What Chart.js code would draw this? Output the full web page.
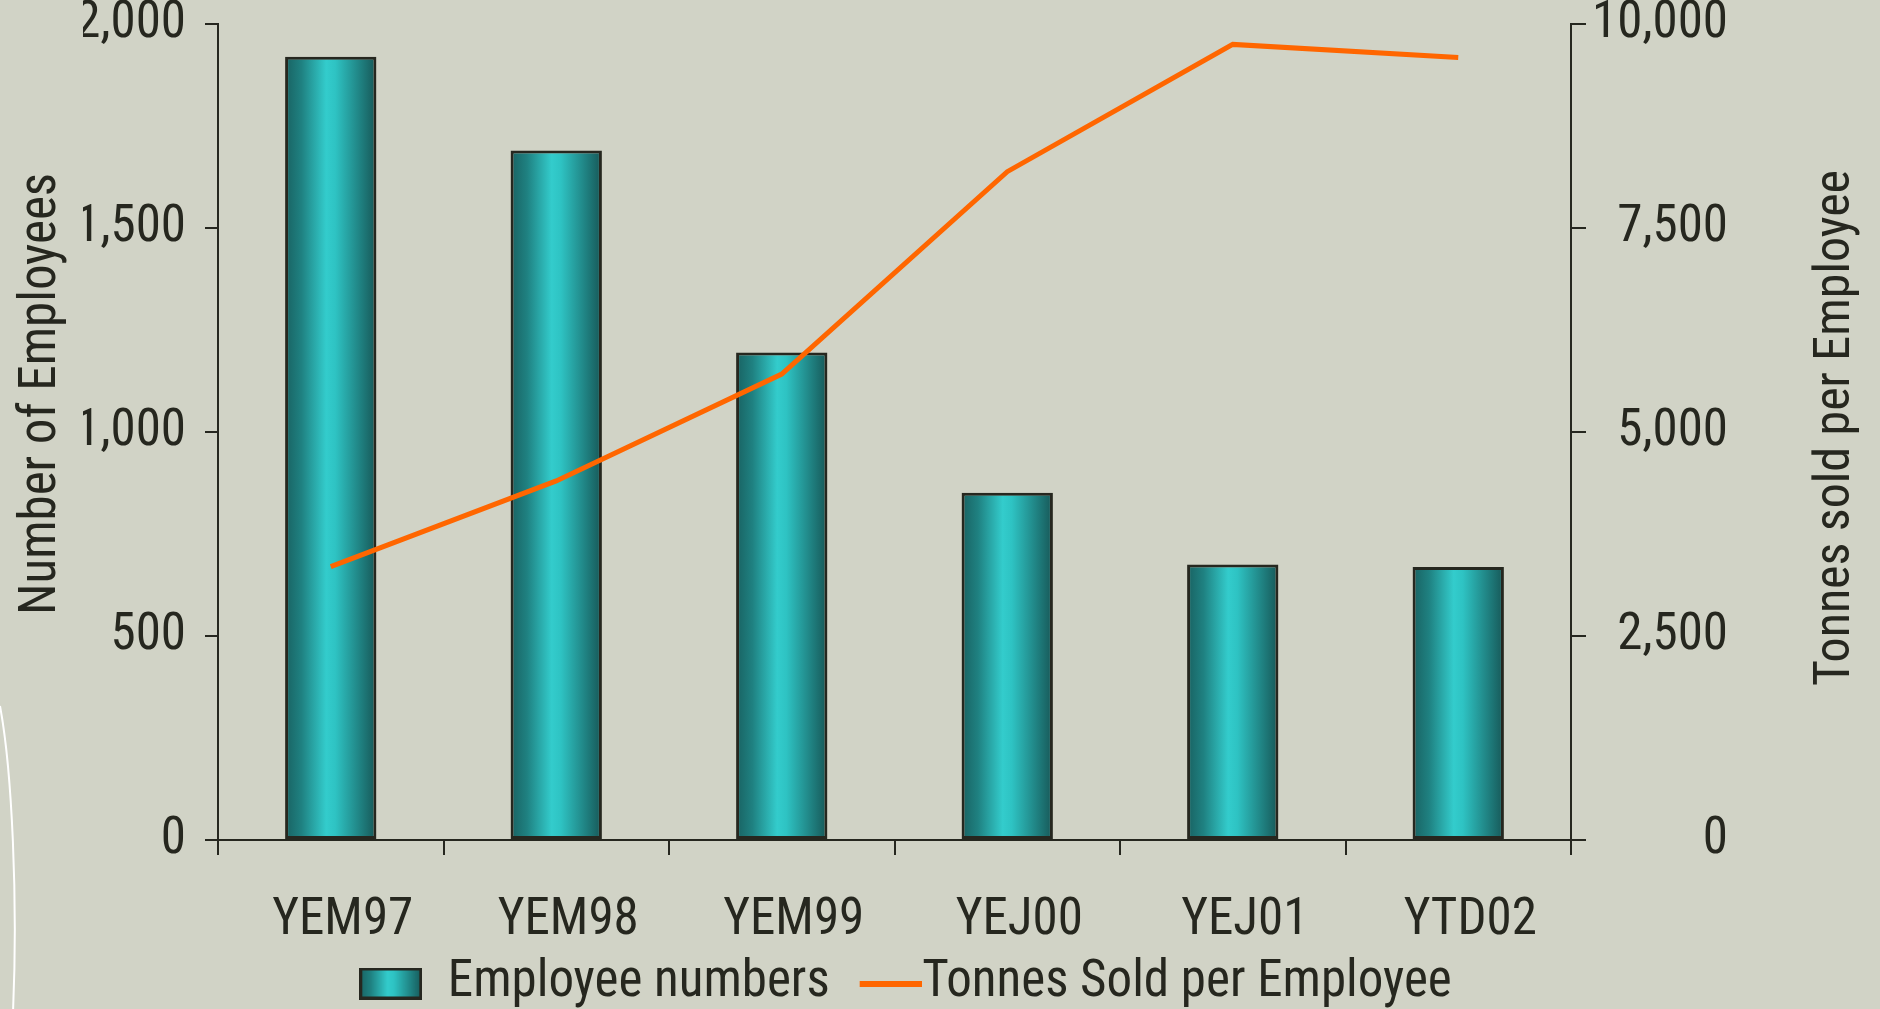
<!DOCTYPE html>
<html>
<head>
<meta charset="utf-8">
<title>Employees and tonnes sold per employee</title>
<script src="https://cdn.jsdelivr.net/npm/chart.js@4.4.1/dist/chart.umd.min.js"></script>
<style>
  html, body { margin: 0; padding: 0; background: #d1d3c6; overflow: hidden; }
  #wrap { width: 1880px; height: 1009px; position: relative; }
</style>
</head>
<body>
<div id="wrap"><canvas id="employeesChart"></canvas></div>
<script>
// Periods along the bottom axis
const categories = ['YEM97', 'YEM98', 'YEM99', 'YEJ00', 'YEJ01', 'YTD02'];
// Bars (left axis) - number of employees
const employeeNumbers = [1920, 1690, 1195, 851, 675, 669];
// Line (right axis) - tonnes sold per employee
const tonnesPerEmployee = [3350, 4400, 5710, 8190, 9750, 9590];
// Tick values for both axes
const leftTickValues = [0, 500, 1000, 1500, 2000];
const rightTickValues = [0, 2500, 5000, 7500, 10000];

const BG = '#d1d3c6';
const INK = '#26271f';
const ORANGE = '#ff6600';
// Roboto is variable here, "condensed" gives an Arial-Narrow-like width
const FONT = 'Roboto, "Liberation Sans", Arial, sans-serif';
const STRETCH = 'condensed';
const BAR_PCT = 0.405;

Chart.defaults.font.family = FONT;
Chart.defaults.font.weight = STRETCH; // ends up as "normal condensed NNpx Roboto"
Chart.defaults.color = INK;

// teal "cylinder" shading, left to right
function tealStops(g) {
  g.addColorStop(0, '#196262');
  g.addColorStop(0.18, '#1f8181');
  g.addColorStop(0.45, '#33cccc');
  g.addColorStop(0.55, '#2ec3c3');
  g.addColorStop(0.85, '#1e7b7b');
  g.addColorStop(1, '#175757');
  return g;
}

function barFill(c) {
  const xs = c.chart.scales.x;
  if (!xs || !xs.width || c.dataIndex === undefined) return '#26a6a6';
  const half = xs.width / categories.length * BAR_PCT / 2;
  const cx = xs.getPixelForValue(c.dataIndex);
  return tealStops(c.chart.ctx.createLinearGradient(cx - half, 0, cx + half, 0));
}

// legend swatches drawn as small canvases
const barSwatch = document.createElement('canvas');
barSwatch.width = 63; barSwatch.height = 32;
(function () {
  const g = barSwatch.getContext('2d');
  g.fillStyle = tealStops(g.createLinearGradient(0, 0, 63, 0));
  g.fillRect(0, 0, 63, 32);
  g.strokeStyle = INK; g.lineWidth = 3;
  g.strokeRect(1.5, 1.5, 60, 29);
})();

const lineSwatch = document.createElement('canvas');
lineSwatch.width = 113; lineSwatch.height = 6;
(function () {
  const g = lineSwatch.getContext('2d');
  g.fillStyle = ORANGE;
  g.fillRect(51, 0, 62, 6);
})();

const backdrop = {
  id: 'backdrop',
  beforeDraw(chart) {
    const ctx = chart.ctx;
    ctx.save();
    ctx.fillStyle = BG;
    ctx.fillRect(0, 0, chart.width, chart.height);
    // thin white decorative arc at the left edge
    ctx.strokeStyle = '#ffffff';
    ctx.lineWidth = 2;
    ctx.beginPath();
    ctx.moveTo(0, 706);
    ctx.bezierCurveTo(12, 770, 18, 900, 13, 1012);
    ctx.stroke();
    ctx.restore();
  }
};

// both axis titles read bottom-to-top
const axisTitles = {
  id: 'axisTitles',
  afterDraw(chart) {
    const ctx = chart.ctx;
    ctx.save();
    ctx.fillStyle = INK;
    ctx.textAlign = 'center';
    ctx.textBaseline = 'alphabetic';
    [['Number of Employees', 51, 55, 394], ['Tonnes sold per Employee', 50, 1849, 428]].forEach(([txt, size, x, y]) => {
      ctx.save();
      ctx.font = STRETCH + ' ' + size + 'px ' + FONT;
      ctx.translate(x, y);
      ctx.rotate(-Math.PI / 2);
      ctx.fillText(txt, 0, 0);
      ctx.restore();
    });
    ctx.restore();
  }
};

// fixed box sizes, no extra label padding pushed into the layout
const fixBox = (w, h) => s => {
  if (w) s.width = w;
  if (h) s.height = h;
  s.paddingTop = 0; s.paddingBottom = 0; s.paddingLeft = 0; s.paddingRight = 0;
};

const ctx = document.getElementById('employeesChart').getContext('2d');
new Chart(ctx, {
  data: {
    labels: categories,
    datasets: [{
      type: 'bar',
      label: 'Employee numbers',
      data: employeeNumbers,
      yAxisID: 'y',
      backgroundColor: barFill,
      borderColor: INK,
      borderWidth: 3,
      borderSkipped: false,
      categoryPercentage: 1,
      barPercentage: BAR_PCT,
      order: 2
    }, {
      type: 'line',
      label: 'Tonnes Sold per Employee',
      data: tonnesPerEmployee,
      yAxisID: 'y1',
      borderColor: ORANGE,
      backgroundColor: ORANGE,
      borderWidth: 5,
      pointRadius: 0,
      tension: 0,
      order: 1
    }]
  },
  options: {
    responsive: true,
    maintainAspectRatio: false,
    animation: false,
    layout: { padding: { top: 24, right: 152, left: 83, bottom: -10 } },
    scales: {
      x: {
        offset: true,
        grid: { drawOnChartArea: false, tickLength: 15, color: INK, lineWidth: 2, offset: true },
        border: { color: INK, width: 2 },
        ticks: { font: { size: 51 }, color: INK, padding: 36, labelOffset: 12, maxRotation: 0, autoSkip: false },
        afterFit: fixBox(0, 114)
      },
      y: {
        position: 'left',
        min: leftTickValues[0],
        max: leftTickValues[leftTickValues.length - 1],
        grid: { drawOnChartArea: false, tickLength: 13, color: INK, lineWidth: 2 },
        border: { color: INK, width: 2 },
        ticks: { stepSize: leftTickValues[1] - leftTickValues[0], padding: 19, color: INK, font: { size: 51 } },
        afterFit: fixBox(135, 0)
      },
      y1: {
        position: 'right',
        min: rightTickValues[0],
        max: rightTickValues[rightTickValues.length - 1],
        grid: { drawOnChartArea: false, tickLength: 15, color: INK, lineWidth: 2 },
        border: { color: INK, width: 2 },
        ticks: { stepSize: rightTickValues[1] - rightTickValues[0], padding: 14, crossAlign: 'far', color: INK, font: { size: 51 } },
        afterFit: fixBox(157, 0)
      }
    },
    plugins: {
      tooltip: { enabled: false },
      legend: {
        position: 'bottom',
        labels: {
          font: { size: 51 },
          color: INK,
          usePointStyle: true,
          pointStyleWidth: 63,
          boxHeight: 51,
          padding: 4,
          sort: (a, b) => a.datasetIndex - b.datasetIndex,
          generateLabels(chart) {
            const items = Chart.defaults.plugins.legend.labels.generateLabels(chart);
            items.forEach(it => {
              it.pointStyle = it.datasetIndex === 0 ? barSwatch : lineSwatch;
              it.fontColor = INK;
            });
            return items;
          }
        }
      }
    }
  },
  plugins: [backdrop, axisTitles]
});
</script>
</body>
</html>
